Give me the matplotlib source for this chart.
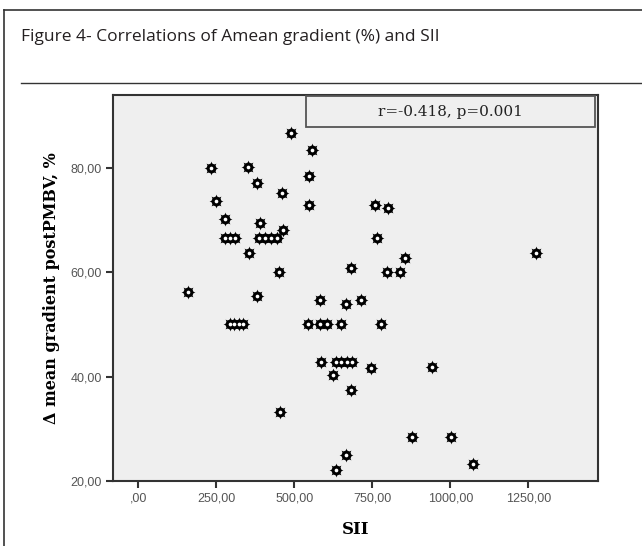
import numpy as np
import matplotlib
matplotlib.use('Agg')
import matplotlib.pyplot as plt
from matplotlib.patches import Rectangle
from matplotlib.lines import Line2D

# values (SII vs delta mean gradient, %)
sii = [159, 232, 352, 380, 250, 277, 389, 278, 294, 310,
       387, 406, 425, 445, 463, 354, 450, 488, 557, 546,
       462, 546, 681, 758, 800, 766, 854, 798, 838, 1274,
       380, 294, 307, 323, 336, 453, 581, 667, 713, 544,
       581, 606, 651, 779, 587, 634, 650, 669, 685, 747,
       942, 624, 683, 878, 1003, 1073, 666, 633]
grad = [56.2, 80.0, 80.2, 77.0, 73.6, 70.1, 69.3, 66.6, 66.6, 66.6,
        66.6, 66.6, 66.6, 66.6, 68.0, 63.6, 60.1, 86.7, 83.4, 78.4,
        75.1, 72.8, 60.8, 72.8, 72.3, 66.6, 62.6, 60.1, 60.1, 63.6,
        55.5, 50.0, 50.0, 50.0, 50.0, 33.3, 54.6, 53.8, 54.6, 50.0,
        50.0, 50.0, 50.0, 50.0, 42.7, 42.7, 42.7, 42.7, 42.7, 41.6,
        41.9, 40.2, 37.4, 28.4, 28.4, 23.3, 24.9, 22.2]

xticks = [0, 250, 500, 750, 1000, 1250]
xtick_labels = [',00', '250,00', '500,00', '750,00', '1000,00', '1250,00']
yticks = [20, 40, 60, 80]
ytick_labels = ['20,00', '40,00', '60,00', '80,00']

title = 'Figure 4- Correlations of Amean gradient (%) and SII'
stat_text = 'r=-0.418, p=0.001'

fig = plt.figure(figsize=(6.42, 5.46), dpi=100)

# outer frame and separator line of the figure panel
fig.add_artist(Line2D([4/642, 4/642], [0, 1-10/546], color='#333333', lw=1.2))
fig.add_artist(Line2D([4/642, 1], [1-10/546, 1-10/546], color='#333333', lw=1.2))
fig.add_artist(Line2D([21/642, 1], [1-83/546, 1-83/546], color='#333333', lw=1.0))
fig.text(21/642, 1-37/546, title, family='Open Sans', fontsize=12.5,
         color='#231f20', va='center', ha='left')

ax = fig.add_axes([113/642, 1-481/546, 485/642, 386/546])
ax.set_facecolor('#efefef')
for s in ax.spines.values():
    s.set_color('#333333')
    s.set_linewidth(1.5)

# SPSS-like "sun" markers
ax.scatter(sii, grad, marker=(8, 1, 0), s=100, c='black', linewidths=0, zorder=3)
ax.scatter(sii, grad, marker='o', s=50, c='black', linewidths=0, zorder=4)
ax.scatter(sii, grad, marker='o', s=7, c='white', linewidths=0, zorder=5)

ax.set_xlim(-81, 1473)
ax.set_ylim(20, 93.9)
ax.set_xticks(xticks)
ax.set_xticklabels(xtick_labels)
ax.set_yticks(yticks)
ax.set_yticklabels(ytick_labels)
ax.tick_params(direction='out', length=5, width=1.5, color='#333333',
               labelsize=9, labelcolor='#555555', pad=3)
for lab in ax.get_xticklabels() + ax.get_yticklabels():
    lab.set_family('Liberation Sans')

ax.set_xlabel('SII', family='DejaVu Serif', fontweight='bold', fontsize=12, labelpad=12)
fig.text(52/642, 1-288/546, '\u0394 mean gradient postPMBV, %', family='DejaVu Serif',
         fontweight='bold', fontsize=11.5, rotation=90, ha='center', va='center')

# correlation box
ax.add_patch(Rectangle((0.397, 0.917), 0.597, 0.08, transform=ax.transAxes,
                       facecolor='#efefef', edgecolor='#555555', lw=1.3, zorder=6))
ax.text(0.6955, 0.957, stat_text, transform=ax.transAxes, ha='center', va='center',
        family='DejaVu Serif', fontsize=11, color='#222222', zorder=7)

fig.savefig('out.png', dpi=100)
